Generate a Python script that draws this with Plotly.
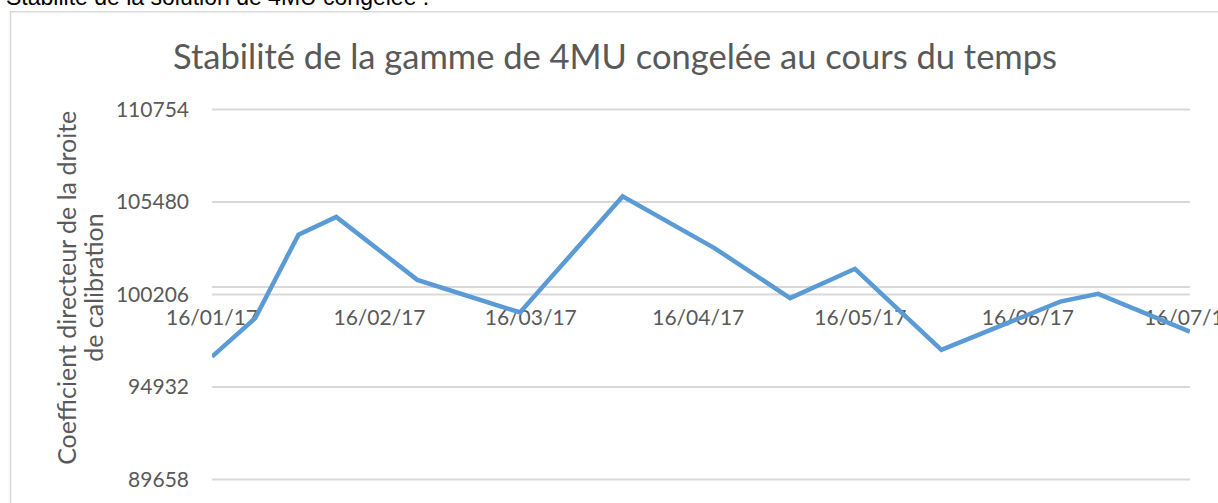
import plotly.graph_objects as go

# Measurement dates and slope of the calibration line for each run
dates = [
    "2017-01-16", "2017-01-24", "2017-02-01", "2017-02-08", "2017-02-23",
    "2017-03-14", "2017-04-02", "2017-04-19", "2017-05-03", "2017-05-15",
    "2017-05-31", "2017-06-22", "2017-06-29", "2017-07-16",
]
slopes = [
    96660, 98860, 103610, 104630, 101040,
    99180, 105800, 102850, 100000, 101670,
    97050, 99800, 100240, 98090,
]

y_ticks = [89658, 94932, 100206, 105480, 110754]
x_ticks = ["2017-01-16", "2017-02-16", "2017-03-16", "2017-04-16",
           "2017-05-16", "2017-06-16", "2017-07-16"]
x_range = ["2017-01-16", "2017-07-16 00:20"]
axis_cross = 100660  # value where the horizontal axis crosses
y_pad = 200          # small overshoot above/below the outer gridlines

W, H = 1218, 503
L, R = 212, 28
top_grid_px, bottom_grid_px = 110, 479.3
y_lo, y_hi = y_ticks[0], y_ticks[-1]
px_per_unit = (bottom_grid_px - top_grid_px) / (y_hi - y_lo)
T = top_grid_px - y_pad * px_per_unit
B = H - (bottom_grid_px + y_pad * px_per_unit)
plot_w, plot_h = W - L - R, H - T - B


def px_x(px):
    return (px - L) / plot_w


def px_y(py):
    return (H - B - py) / plot_h


grey = "#595959"
grid = "#d9d9d9"
font = "Lato, Calibri, sans-serif"

fig = go.Figure()
fig.add_trace(go.Scatter(
    x=dates, y=slopes, mode="lines",
    line=dict(color="#5B9BD5", width=4.5),
    showlegend=False, hoverinfo="x+y",
))

y_min, y_max = y_lo - y_pad, y_hi + y_pad

# horizontal gridlines at every value tick
grid_shapes = [
    dict(type="line", xref="paper", yref="y", x0=0, x1=1, y0=v, y1=v,
         line=dict(color=grid, width=1.8), layer="below")
    for v in y_ticks
]

fig.update_layout(
    width=W, height=H,
    margin=dict(l=L, r=R, t=T, b=B, autoexpand=False),
    paper_bgcolor="white", plot_bgcolor="white",
    font=dict(family=font, color=grey, size=21),
    title=dict(
        text="Stabilité de la gamme de 4MU congelée au cours du temps",
        x=615 / W, xanchor="center", xref="container",
        y=1 - 57 / H, yanchor="middle", yref="container",
        font=dict(size=34.5, color=grey, family=font),
    ),
    xaxis=dict(
        type="date", range=x_range,
        tickvals=x_ticks, tickformat="%d/%m/%y",
        anchor="free",
        position=(axis_cross - y_min) / (y_max - y_min),
        showline=True, linecolor=grid, linewidth=1.8,
        showgrid=False, zeroline=False,
        ticks="", ticklabelstandoff=12, ticklabeloverflow="allow",
        tickfont=dict(size=21, color=grey, family=font),
        layer="below traces", automargin=False,
    ),
    yaxis=dict(
        range=[y_min, y_max], tickvals=y_ticks,
        tickformat="d",
        showgrid=False,
        showline=False, zeroline=False, ticks="",
        ticklabelstandoff=22,
        tickfont=dict(size=21, color=grey, family=font),
        layer="below traces", automargin=False,
    ),
    shapes=[
        # chart area border
        dict(type="rect", xref="paper", yref="paper",
             x0=px_x(10.5), x1=px_x(W + 20), y0=px_y(12.5), y1=px_y(H + 20),
             line=dict(color=grid, width=1.5), fillcolor="rgba(0,0,0,0)",
             layer="below"),
    ] + grid_shapes,
    annotations=[
        dict(text="Coefficient directeur de la droite",
             xref="paper", yref="paper", x=px_x(66), y=px_y(288),
             xanchor="center", yanchor="middle", textangle=-90,
             showarrow=False, font=dict(size=25, color=grey, family=font)),
        dict(text="de calibration",
             xref="paper", yref="paper", x=px_x(93), y=px_y(288),
             xanchor="center", yanchor="middle", textangle=-90,
             showarrow=False, font=dict(size=25, color=grey, family=font)),
        dict(text="Stabilité de la solution de 4MU congelée :",
             xref="paper", yref="paper", x=px_x(4), y=px_y(13),
             xanchor="left", yanchor="bottom", showarrow=False,
             font=dict(size=23, color="black",
                       family="Liberation Sans, Arial, sans-serif")),
    ],
)

fig.write_html("out.html")
